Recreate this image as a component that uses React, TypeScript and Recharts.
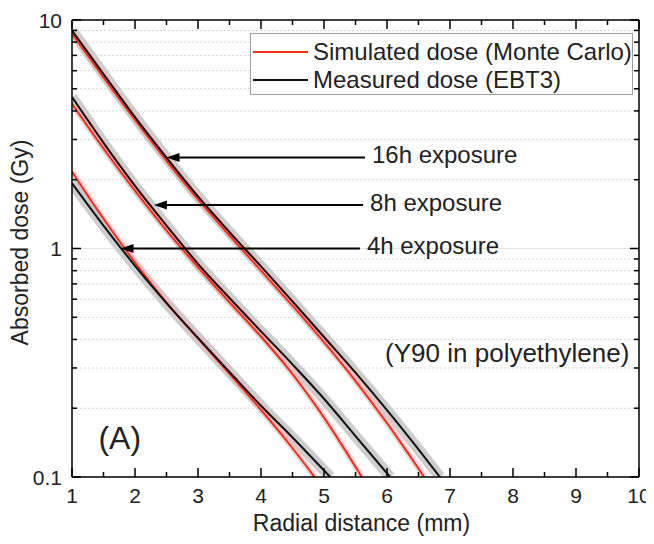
import React from 'react';
import {
  LineChart,
  Line,
  XAxis,
  YAxis,
  CartesianGrid,
  Legend,
  ReferenceLine,
  ReferenceDot,
} from 'recharts';

// ---------- data ----------
const xTicks = [1, 1.5, 2, 2.5, 3, 3.5, 4, 4.5, 5, 5.5, 6, 6.5, 7, 7.5, 8, 8.5, 9, 9.5, 10];
const yTicks = [0.1, 0.2, 0.3, 0.4, 0.5, 0.6, 0.7, 0.8, 0.9, 1, 2, 3, 4, 5, 6, 7, 8, 9, 10];
const yMajorLabels = ['0.1', '1', '10'];

const measured16h = [
  { x: 1.0, y: 9.0 }, { x: 1.5, y: 5.8 }, { x: 2.0, y: 3.76 }, { x: 2.5, y: 2.5 },
  { x: 3.0, y: 1.69 }, { x: 3.5, y: 1.18 }, { x: 4.0, y: 0.835 }, { x: 4.5, y: 0.587 },
  { x: 5.0, y: 0.41 }, { x: 5.5, y: 0.286 }, { x: 6.0, y: 0.196 }, { x: 6.5, y: 0.132 },
  { x: 6.84, y: 0.1 },
];
const simulated16h = [
  { x: 1.0, y: 8.7 }, { x: 1.5, y: 5.6 }, { x: 2.0, y: 3.65 }, { x: 2.5, y: 2.42 },
  { x: 3.0, y: 1.64 }, { x: 3.5, y: 1.14 }, { x: 4.0, y: 0.8 }, { x: 4.5, y: 0.562 },
  { x: 5.0, y: 0.389 }, { x: 5.5, y: 0.263 }, { x: 6.0, y: 0.172 }, { x: 6.59, y: 0.1 },
];
const measured8h = [
  { x: 1.0, y: 4.6 }, { x: 1.5, y: 2.9 }, { x: 2.0, y: 1.88 }, { x: 2.5, y: 1.26 },
  { x: 3.0, y: 0.857 }, { x: 3.5, y: 0.607 }, { x: 4.0, y: 0.434 }, { x: 4.5, y: 0.311 },
  { x: 5.0, y: 0.22 }, { x: 5.5, y: 0.151 }, { x: 6.05, y: 0.1 },
];
const simulated8h = [
  { x: 1.0, y: 4.3 }, { x: 1.5, y: 2.74 }, { x: 2.0, y: 1.79 }, { x: 2.5, y: 1.2 },
  { x: 3.0, y: 0.828 }, { x: 3.5, y: 0.582 }, { x: 4.0, y: 0.412 }, { x: 4.5, y: 0.282 },
  { x: 5.0, y: 0.182 }, { x: 5.6, y: 0.1 },
];
const measured4h = [
  { x: 1.0, y: 1.93 }, { x: 1.5, y: 1.26 }, { x: 2.0, y: 0.84 }, { x: 2.5, y: 0.577 },
  { x: 3.0, y: 0.406 }, { x: 3.5, y: 0.288 }, { x: 4.0, y: 0.205 }, { x: 4.5, y: 0.149 },
  { x: 5.1, y: 0.1 },
];
const simulated4h = [
  { x: 1.0, y: 2.17 }, { x: 1.5, y: 1.35 }, { x: 2.0, y: 0.868 }, { x: 2.5, y: 0.58 },
  { x: 3.0, y: 0.404 }, { x: 3.5, y: 0.2825 }, { x: 4.0, y: 0.1966 }, { x: 4.5, y: 0.1336 },
  { x: 4.85, y: 0.1 },
];

const measuredSeries = [measured16h, measured8h, measured4h];
const simulatedSeries = [simulated16h, simulated8h, simulated4h];

const arrowLabels = ['16h exposure', '8h exposure', '4h exposure'];
const arrowTipX = [2.5, 2.3, 1.77];
const arrowTailX = [5.65, 5.62, 5.57];
const arrowY = [2.5, 1.55, 1.0];

const legendNames = ['Simulated dose (Monte Carlo)', 'Measured dose (EBT3)'];
const noteText = '(Y90 in polyethylene)';
const noteX = 5.97;
const noteY = 0.35;
const panelText = '(A)';
const panelX = 1.42;
const panelY = 0.148;

// ---------- styles ----------
const FONT = '"Liberation Sans", Arial, Helvetica, sans-serif';
const RED = '#ff2a1a';
const BLACK = '#111111';
const W = 646;
const H = 528;

const BottomTick = (props: any) => {
  const { x, y, payload } = props;
  const v = payload.value;
  const major = Number.isInteger(v);
  return (
    <g>
      <line x1={x} x2={x} y1={y} y2={y - (major ? 9 : 5)} stroke="#000" strokeWidth={1.5} />
      {major && (
        <text x={x} y={y + 26} textAnchor="middle" fontSize={21} fontFamily={FONT} fill="#222">
          {v}
        </text>
      )}
    </g>
  );
};

const TopTick = (props: any) => {
  const { x, y, payload } = props;
  const major = Number.isInteger(payload.value);
  return <line x1={x} x2={x} y1={y} y2={y + (major ? 9 : 5)} stroke="#000" strokeWidth={1.5} />;
};

const isMajorY = (v: number) => yMajorLabels.includes(String(v));

const LeftTick = (props: any) => {
  const { x, y, payload } = props;
  const v = payload.value;
  const major = isMajorY(v);
  return (
    <g>
      <line x1={x} x2={x + (major ? 9 : 5)} y1={y} y2={y} stroke="#000" strokeWidth={1.5} />
      {major && (
        <text x={x - 10} y={y} dy={7.5} textAnchor="end" fontSize={21} fontFamily={FONT} fill="#222">
          {String(v)}
        </text>
      )}
    </g>
  );
};

const RightTick = (props: any) => {
  const { x, y, payload } = props;
  const major = isMajorY(payload.value);
  return <line x1={x} x2={x - (major ? 9 : 5)} y1={y} y2={y} stroke="#000" strokeWidth={1.5} />;
};

const makeArrow = (label: string) => (p: any) => {
  const x1 = Number(p.x1);
  const y1 = Number(p.y1);
  const x2 = Number(p.x2);
  const y2 = Number(p.y2);
  return (
    <g>
      <line x1={x1 + 10} y1={y1} x2={x2} y2={y2} stroke="#000" strokeWidth={2} />
      <polygon points={`${x1},${y1} ${x1 + 13},${y1 - 4.5} ${x1 + 13},${y1 + 4.5}`} fill="#000" />
      <text x={x2 + 7} y={y2} dy={5.5} fontSize={24} fontFamily={FONT} fill="#222">
        {label}
      </text>
    </g>
  );
};

const LegendBox = () => (
  <div
    style={{
      width: 383,
      height: 62,
      boxSizing: 'border-box',
      border: '1px solid #a0a0a0',
      background: '#fff',
      fontFamily: FONT,
      fontSize: 24,
      color: '#222',
      paddingTop: 4,
    }}
  >
    {legendNames.map((name, i) => (
      <div key={name} style={{ display: 'flex', alignItems: 'center', height: 28, lineHeight: '28px' }}>
        <svg width={55} height={10} style={{ marginLeft: 2, marginRight: 5 }}>
          <line x1={0} x2={55} y1={5} y2={5} stroke={i === 0 ? RED : BLACK} strokeWidth={2} />
        </svg>
        <span style={{ whiteSpace: 'nowrap' }}>{name}</span>
      </div>
    ))}
  </div>
);

export default function App() {
  return (
    <div style={{ width: W, height: H, position: 'relative' }}>
      <LineChart
        width={W}
        height={H}
        margin={{ top: 11, right: 14, bottom: 0, left: 0 }}
      >
        <CartesianGrid horizontal vertical={false} stroke="#d4d4d4" strokeDasharray="2 2" />
        <ReferenceLine y={1} stroke="#e4e4e4" strokeWidth={1.2} />
        <XAxis
          type="number"
          dataKey="x"
          domain={[1, 10]}
          ticks={xTicks}
          interval={0}
          allowDataOverflow
          height={59}
          tickSize={0}
          tickMargin={0}
          tickLine={false}
          axisLine={{ stroke: '#000', strokeWidth: 1.5 }}
          tick={BottomTick}
          label={{
            value: 'Radial distance (mm)',
            position: 'insideBottom',
            offset: 5,
            dx: 6,
            fontSize: 23,
            fontFamily: FONT,
            fill: '#222',
          }}
        />
        <XAxis
          xAxisId="top"
          orientation="top"
          type="number"
          dataKey="x"
          domain={[1, 10]}
          ticks={xTicks}
          interval={0}
          allowDataOverflow
          height={1}
          tickSize={0}
          tickMargin={0}
          tickLine={false}
          axisLine={{ stroke: '#000', strokeWidth: 1.5 }}
          tick={TopTick}
        />
        <YAxis
          type="number"
          scale="log"
          domain={[0.1, 10]}
          ticks={yTicks}
          interval={0}
          allowDataOverflow
          width={64}
          tickSize={0}
          tickMargin={0}
          tickLine={false}
          axisLine={{ stroke: '#000', strokeWidth: 1.5 }}
          tick={LeftTick}
          label={{
            content: (p: any) => {
              const vb = p.viewBox || { x: 0, y: 0, width: 64, height: 457 };
              const cx = vb.x + 12;
              const cy = vb.y + vb.height / 2 - 6;
              return (
                <text
                  x={cx}
                  y={cy}
                  dy={8}
                  transform={`rotate(-90 ${cx} ${cy})`}
                  textAnchor="middle"
                  fontSize={23}
                  fontFamily={FONT}
                  fill="#222"
                >
                  Absorbed dose (Gy)
                </text>
              );
            },
          }}
        />
        <YAxis
          yAxisId="right"
          orientation="right"
          type="number"
          scale="log"
          domain={[0.1, 10]}
          ticks={yTicks}
          interval={0}
          allowDataOverflow
          width={1}
          tickSize={0}
          tickMargin={0}
          tickLine={false}
          axisLine={{ stroke: '#000', strokeWidth: 1.5 }}
          tick={RightTick}
        />

        {measuredSeries.map((d, i) => (
          <Line
            key={`band-m-${i}`}
            data={d}
            dataKey="y"
            type="monotone"
            stroke="#cdcdcd"
            strokeWidth={11}
            dot={false}
            activeDot={false}
            legendType="none"
            isAnimationActive={false}
          />
        ))}
        {simulatedSeries.map((d, i) => (
          <Line
            key={`band-s-${i}`}
            data={d}
            dataKey="y"
            type="monotone"
            stroke="#f7b3b3"
            strokeOpacity={0.55}
            strokeWidth={6}
            dot={false}
            activeDot={false}
            legendType="none"
            isAnimationActive={false}
          />
        ))}
        {simulatedSeries.map((d, i) => (
          <Line
            key={`sim-${i}`}
            data={d}
            dataKey="y"
            type="monotone"
            stroke={RED}
            strokeWidth={2}
            dot={false}
            activeDot={false}
            name={legendNames[0]}
            isAnimationActive={false}
          />
        ))}
        {measuredSeries.map((d, i) => (
          <Line
            key={`meas-${i}`}
            data={d}
            dataKey="y"
            type="monotone"
            stroke={BLACK}
            strokeWidth={2}
            dot={false}
            activeDot={false}
            name={legendNames[1]}
            isAnimationActive={false}
          />
        ))}

        {arrowLabels.map((label, i) => (
          <ReferenceLine
            key={label}
            segment={[
              { x: arrowTipX[i], y: arrowY[i] },
              { x: arrowTailX[i], y: arrowY[i] },
            ]}
            shape={makeArrow(label)}
          />
        ))}

        <ReferenceDot
          x={noteX}
          y={noteY}
          r={0}
          shape={(p: any) => (
            <text x={p.cx} y={p.cy} dy={9} fontSize={26} fontFamily={FONT} fill="#222">
              {noteText}
            </text>
          )}
        />
        <ReferenceDot
          x={panelX}
          y={panelY}
          r={0}
          shape={(p: any) => (
            <text x={p.cx} y={p.cy} dy={11} fontSize={32} fontFamily={FONT} fill="#222">
              {panelText}
            </text>
          )}
        />

        <Legend
          layout="vertical"
          align="center"
          verticalAlign="middle"
          wrapperStyle={{ position: 'absolute', top: 25, left: 242, width: 383, height: 62 }}
          content={() => <LegendBox />}
        />
      </LineChart>
    </div>
  );
}
